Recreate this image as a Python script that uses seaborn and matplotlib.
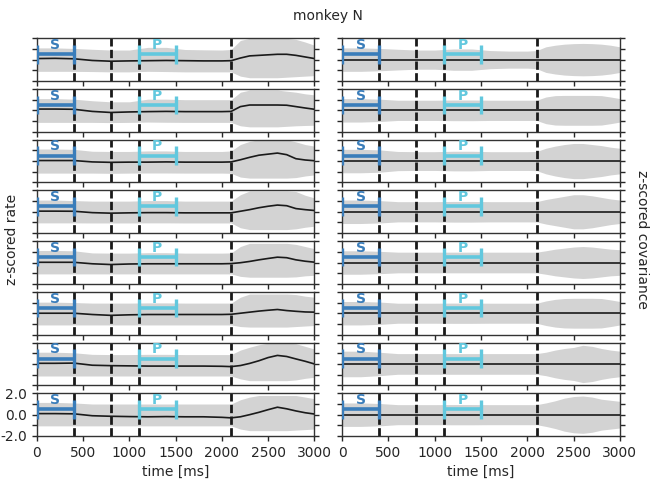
import numpy as np
import matplotlib
matplotlib.use("Agg")
import matplotlib.pyplot as plt
import seaborn as sns

# ---------------- data ----------------
time_ms = [0, 200, 400, 600, 800, 1000, 1200, 1400, 1600, 1800, 2000,
           2100, 2200, 2300, 2400, 2500, 2600, 2700, 2800, 2900, 3000]

rate_mean = [
    [0.10, 0.12, 0.08, -0.08, -0.15, -0.12, -0.10, -0.08, -0.10, -0.12, -0.12, -0.10, 0.15, 0.35, 0.40, 0.45, 0.50, 0.50, 0.40, 0.25, 0.10],
    [0.12, 0.12, 0.10, -0.10, -0.20, -0.15, -0.12, -0.10, -0.12, -0.12, -0.12, -0.10, 0.35, 0.50, 0.50, 0.50, 0.50, 0.48, 0.35, 0.22, 0.10],
    [0.05, 0.05, 0.05, -0.08, -0.12, -0.10, -0.10, -0.08, -0.10, -0.10, -0.10, -0.08, 0.12, 0.35, 0.55, 0.65, 0.75, 0.60, 0.22, 0.10, 0.03],
    [0.06, 0.06, 0.05, -0.08, -0.13, -0.10, -0.08, -0.08, -0.10, -0.10, -0.10, -0.10, 0.05, 0.20, 0.38, 0.52, 0.63, 0.57, 0.30, 0.20, 0.12],
    [0.02, 0.02, 0.02, -0.12, -0.19, -0.14, -0.12, -0.12, -0.12, -0.12, -0.12, -0.10, -0.02, 0.10, 0.25, 0.38, 0.50, 0.45, 0.25, 0.12, 0.03],
    [0.00, 0.00, 0.00, -0.12, -0.20, -0.15, -0.12, -0.12, -0.12, -0.12, -0.12, -0.10, 0.00, 0.10, 0.20, 0.28, 0.35, 0.25, 0.18, 0.12, 0.10],
    [0.06, 0.06, 0.08, -0.12, -0.16, -0.18, -0.20, -0.20, -0.20, -0.20, -0.22, -0.25, -0.15, 0.05, 0.30, 0.60, 0.80, 0.70, 0.47, 0.25, 0.00],
    [0.10, 0.10, 0.08, -0.10, -0.15, -0.18, -0.20, -0.18, -0.20, -0.20, -0.25, -0.30, -0.20, 0.00, 0.22, 0.47, 0.70, 0.55, 0.35, 0.18, 0.06],
]

rate_upper = [
    [1.10, 1.10, 1.05, 0.97, 0.90, 0.90, 1.15, 1.15, 0.95, 0.92, 0.90, 0.95, 1.80, 2.00, 2.00, 2.00, 2.00, 2.00, 1.90, 1.65, 1.35],
    [1.10, 1.10, 1.05, 0.90, 0.80, 0.80, 1.05, 1.05, 1.00, 1.00, 1.00, 1.00, 1.70, 1.90, 1.90, 1.90, 1.90, 1.80, 1.70, 1.55, 1.45],
    [1.13, 1.13, 1.10, 0.92, 0.90, 0.90, 0.95, 0.95, 0.90, 0.90, 0.90, 0.95, 1.55, 1.85, 2.00, 2.00, 2.00, 2.00, 1.80, 1.55, 1.40],
    [1.10, 1.10, 1.05, 1.00, 1.00, 1.00, 1.05, 1.05, 1.00, 1.00, 1.00, 1.00, 1.60, 1.95, 1.95, 1.95, 1.95, 1.95, 1.90, 1.55, 1.30],
    [1.13, 1.13, 1.10, 0.90, 0.88, 0.88, 0.92, 0.92, 0.88, 0.88, 0.88, 0.90, 1.50, 1.80, 1.80, 1.80, 1.80, 1.80, 1.70, 1.50, 1.30],
    [1.04, 1.04, 1.00, 0.95, 0.95, 0.95, 0.97, 0.97, 0.95, 0.95, 0.95, 0.95, 1.50, 1.80, 1.80, 1.80, 1.80, 1.80, 1.75, 1.60, 1.50],
    [1.10, 1.10, 1.05, 0.90, 0.88, 0.88, 0.90, 0.90, 0.88, 0.88, 0.88, 0.88, 1.30, 1.57, 1.80, 1.95, 1.95, 1.95, 1.90, 1.65, 1.40],
    [1.15, 1.15, 1.10, 1.00, 1.00, 1.00, 1.00, 1.00, 1.00, 1.00, 1.00, 1.00, 1.40, 1.65, 1.80, 1.80, 1.80, 1.80, 1.80, 1.65, 1.50],
]

rate_lower = [
    [-1.10, -1.10, -1.10, -1.12, -1.15, -1.15, -1.10, -1.12, -1.15, -1.15, -1.15, -1.15, -1.55, -1.70, -1.70, -1.70, -1.70, -1.65, -1.60, -1.55, -1.50],
    [-1.13, -1.13, -1.13, -1.13, -1.15, -1.13, -1.10, -1.12, -1.13, -1.13, -1.13, -1.13, -1.45, -1.55, -1.55, -1.55, -1.55, -1.50, -1.45, -1.42, -1.40],
    [-1.13, -1.13, -1.13, -1.13, -1.15, -1.13, -1.12, -1.12, -1.13, -1.13, -1.13, -1.15, -1.50, -1.60, -1.60, -1.60, -1.60, -1.60, -1.55, -1.40, -1.30],
    [-1.04, -1.04, -1.04, -1.05, -1.05, -1.05, -1.04, -1.04, -1.05, -1.05, -1.05, -1.05, -1.50, -1.67, -1.67, -1.67, -1.67, -1.67, -1.60, -1.45, -1.35],
    [-1.07, -1.07, -1.07, -1.07, -1.07, -1.07, -1.07, -1.07, -1.07, -1.07, -1.07, -1.07, -1.30, -1.38, -1.38, -1.38, -1.38, -1.38, -1.35, -1.25, -1.20],
    [-1.10, -1.10, -1.10, -1.10, -1.10, -1.10, -1.10, -1.10, -1.10, -1.10, -1.10, -1.10, -1.25, -1.30, -1.30, -1.30, -1.30, -1.30, -1.25, -1.20, -1.15],
    [-1.13, -1.13, -1.13, -1.13, -1.13, -1.13, -1.13, -1.13, -1.13, -1.13, -1.13, -1.13, -1.40, -1.57, -1.57, -1.57, -1.57, -1.57, -1.50, -1.35, -1.25],
    [-1.05, -1.05, -1.05, -1.05, -1.05, -1.05, -1.05, -1.05, -1.05, -1.05, -1.05, -1.05, -1.35, -1.50, -1.50, -1.50, -1.50, -1.50, -1.45, -1.40, -1.35],
]

cov_mean = [0.0] * 21

cov_halfwidth = [
    [1.10, 1.10, 1.05, 0.97, 0.90, 0.90, 1.00, 1.00, 0.85, 0.80, 0.80, 0.85, 1.20, 1.35, 1.45, 1.50, 1.52, 1.50, 1.45, 1.35, 1.20],
    [1.10, 1.10, 1.05, 0.95, 0.95, 0.95, 0.97, 0.97, 0.95, 0.95, 0.95, 0.95, 1.25, 1.38, 1.40, 1.40, 1.40, 1.40, 1.38, 1.25, 1.10],
    [1.10, 1.10, 1.05, 0.90, 0.88, 0.88, 0.92, 0.92, 0.88, 0.88, 0.88, 0.90, 1.20, 1.40, 1.55, 1.65, 1.65, 1.55, 1.45, 1.30, 1.20],
    [1.10, 1.10, 1.05, 0.95, 0.95, 0.95, 0.97, 0.97, 0.95, 0.95, 0.95, 0.95, 1.15, 1.30, 1.45, 1.60, 1.60, 1.50, 1.35, 1.20, 1.10],
    [1.10, 1.10, 1.05, 0.97, 0.97, 0.97, 0.97, 0.97, 0.97, 0.97, 0.97, 0.97, 1.10, 1.25, 1.35, 1.45, 1.50, 1.45, 1.35, 1.25, 1.20],
    [1.10, 1.10, 1.05, 0.94, 0.94, 0.94, 0.95, 0.95, 0.94, 0.94, 0.94, 0.94, 1.15, 1.30, 1.38, 1.40, 1.40, 1.40, 1.38, 1.25, 1.10],
    [1.20, 1.20, 1.10, 0.97, 0.97, 0.97, 0.97, 0.97, 0.97, 0.97, 0.97, 0.97, 1.10, 1.30, 1.45, 1.55, 1.75, 1.65, 1.45, 1.30, 1.20],
    [1.10, 1.10, 1.05, 0.94, 0.94, 0.94, 0.95, 0.95, 0.94, 0.94, 0.94, 0.94, 1.10, 1.30, 1.55, 1.70, 1.75, 1.65, 1.45, 1.35, 1.25],
]

event_lines = [400, 800, 1100, 2100]
epoch_labels = ["S", "P"]
epoch_start = [0, 1100]
epoch_end = [400, 1500]
epoch_colors = ["#3a7dba", "#62c8de"]

x_ticks = [0, 500, 1000, 1500, 2000, 2500, 3000]
y_ticks = [-2, -1, 0, 1, 2]
y_ticklabels = ["-2.0", "", "0.0", "", "2.0"]

# ---------------- style ----------------
sns.set_style("ticks")
plt.rcParams["font.family"] = ["DejaVu Sans"]
plt.rcParams["font.size"] = 10

fig, axes = plt.subplots(8, 2, figsize=(6.56, 4.88), dpi=100, sharex=True, sharey=True)
fig.subplots_adjust(left=0.056, right=0.945, top=0.9215, bottom=0.1066,
                    wspace=0.1, hspace=0.19)

t = np.array(time_ms)
bar_y = 0.5
cap_h = 0.87

for r in range(8):
    for c in range(2):
        ax = axes[r, c]
        if c == 0:
            m = np.array(rate_mean[r])
            lo = np.array(rate_lower[r])
            hi = np.array(rate_upper[r])
        else:
            m = np.array(cov_mean)
            hw = np.array(cov_halfwidth[r])
            lo = m - hw
            hi = m + hw
        ax.fill_between(t, lo, hi, color="#d3d3d3", lw=0, zorder=1)
        sns.lineplot(x=t, y=m, ax=ax, color="#1a1a1a", lw=1.2, zorder=3)
        for ev in event_lines:
            ax.axvline(ev, color="#1a1a1a", lw=2, linestyle=(0, (3, 1.2)), zorder=2)
        for lab, s, e, col in zip(epoch_labels, epoch_start, epoch_end, epoch_colors):
            ax.plot([s, e], [bar_y, bar_y], color=col, lw=2.6, solid_capstyle="butt", zorder=4)
            for xx in (s, e):
                ax.plot([xx, xx], [bar_y - cap_h, bar_y + cap_h], color=col, lw=2.4,
                        solid_capstyle="butt", zorder=4)
            ax.text((s + e) / 2, bar_y + 0.22, lab, color=col, fontsize=10,
                    fontweight="bold", ha="center", va="bottom", zorder=5)
        ax.set_xlim(0, 3000)
        ax.set_ylim(-2, 2)
        ax.set_xticks(x_ticks)
        ax.set_yticks(y_ticks)
        ax.tick_params(axis="y", left=True, right=True, direction="out",
                       length=3.5, width=1, labelsize=10)
        ax.tick_params(axis="x", bottom=True, top=False, direction="out",
                       length=3.5, width=1, labelsize=10)
        for sp in ax.spines.values():
            sp.set_linewidth(1.0)
            sp.set_color("#333333")
        ax.set_xlabel("")
        ax.set_ylabel("")
        if r == 7:
            ax.set_xlabel("time [ms]", fontsize=10)
        if r == 7 and c == 0:
            ax.set_yticklabels(y_ticklabels)
        else:
            ax.tick_params(axis="y", labelleft=False)

fig.text(0.5, 0.968, "monkey N", ha="center", va="center", fontsize=10)
fig.text(0.018, 0.51, "z-scored rate", rotation=90, ha="center", va="center", fontsize=10)
fig.text(0.978, 0.51, "z-scored covariance", rotation=270, ha="center", va="center", fontsize=10)

fig.savefig("out.png", dpi=100)
